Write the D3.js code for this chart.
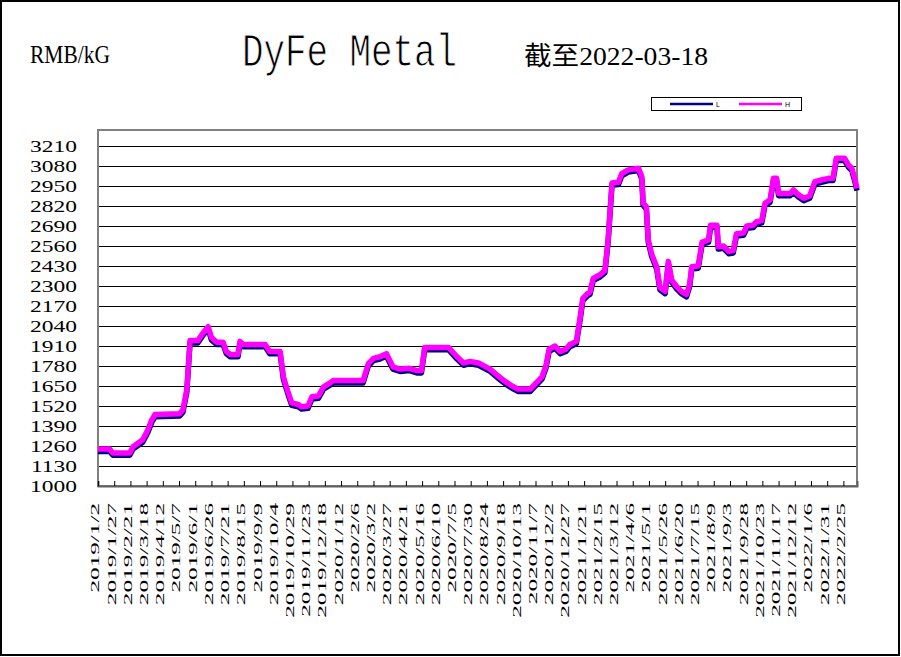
<!DOCTYPE html>
<html><head><meta charset="utf-8">
<script src="https://cdn.jsdelivr.net/npm/d3@7"></script>
<style>body{margin:0;background:#fff}svg{display:block}</style>
</head><body>
<svg id="c" width="901" height="657"></svg>
<script>
const dates = [
"2019-01-02","2019-01-20","2019-01-25","2019-02-20","2019-02-25","2019-03-12","2019-03-20","2019-03-26","2019-03-31","2019-05-08",
"2019-05-13","2019-05-19","2019-05-24","2019-06-05","2019-06-13","2019-06-21","2019-06-26","2019-07-04","2019-07-14","2019-07-19",
"2019-07-25","2019-08-06","2019-08-09","2019-08-14","2019-09-17","2019-09-24","2019-10-10","2019-10-15","2019-10-23","2019-10-28",
"2019-11-07","2019-11-12","2019-11-22","2019-11-28","2019-12-08","2019-12-16","2019-12-26","2019-12-31","2020-02-15","2020-02-23",
"2020-03-02","2020-03-12","2020-03-22","2020-04-01","2020-04-12","2020-04-27","2020-05-08","2020-05-15","2020-05-20","2020-06-26",
"2020-07-09","2020-07-19","2020-07-29","2020-08-11","2020-08-29","2020-09-09","2020-09-21","2020-10-02","2020-10-11","2020-10-30",
"2020-11-08","2020-11-17","2020-11-23","2020-11-28","2020-12-07","2020-12-15","2020-12-24","2020-12-30","2021-01-09","2021-01-15",
"2021-01-19","2021-01-26","2021-01-30","2021-02-04","2021-02-15","2021-02-22","2021-02-27","2021-03-05","2021-03-15","2021-03-20",
"2021-03-30","2021-04-15","2021-04-20","2021-04-22","2021-04-27","2021-04-30","2021-05-05","2021-05-13","2021-05-18","2021-05-26",
"2021-05-31","2021-06-05","2021-06-13","2021-06-20","2021-06-28","2021-07-03","2021-07-06","2021-07-16","2021-07-22","2021-08-01",
"2021-08-04","2021-08-14","2021-08-16","2021-08-24","2021-09-01","2021-09-08","2021-09-13","2021-09-24","2021-09-29","2021-10-09",
"2021-10-14","2021-10-22","2021-10-27","2021-11-04","2021-11-09","2021-11-14","2021-11-17","2021-12-05","2021-12-10","2021-12-18",
"2021-12-26","2022-01-04","2022-01-12","2022-01-22","2022-02-02","2022-02-09","2022-02-14","2022-02-27","2022-03-05","2022-03-10",
"2022-03-15","2022-03-18"];
const high = [
1240,1240,1215,1215,1255,1300,1365,1430,1465,1470,
1495,1625,1945,1945,1995,2035,1965,1935,1935,1875,
1855,1855,1940,1920,1920,1875,1875,1710,1600,1540,
1530,1515,1520,1580,1585,1645,1670,1685,1685,1795,
1830,1840,1860,1775,1760,1765,1750,1750,1900,1900,
1840,1800,1810,1800,1760,1720,1680,1650,1630,1630,
1670,1710,1780,1890,1910,1875,1890,1920,1940,2100,
2220,2250,2260,2350,2375,2400,2600,2970,2975,3030,
3055,3065,3010,2840,2815,2600,2510,2425,2290,2265,
2460,2340,2295,2265,2245,2315,2425,2430,2585,2600,
2695,2695,2555,2560,2525,2530,2640,2645,2690,2695,
2718,2725,2837,2860,3000,3000,2902,2902,2924,2892,
2870,2885,2978,2989,3000,3000,3130,3130,3086,3065,
2989,2935];
const low = [
1225,1225,1200,1200,1240,1285,1350,1415,1450,1455,
1480,1610,1930,1930,1980,2020,1950,1920,1920,1860,
1840,1840,1925,1905,1905,1860,1860,1695,1585,1525,
1515,1500,1505,1565,1570,1630,1655,1670,1670,1780,
1815,1825,1845,1760,1745,1750,1735,1735,1885,1885,
1825,1785,1795,1785,1745,1705,1665,1635,1615,1615,
1655,1695,1765,1875,1895,1860,1875,1905,1925,2085,
2205,2235,2245,2335,2360,2385,2585,2955,2960,3015,
3040,3050,2995,2825,2800,2585,2495,2410,2275,2250,
2445,2325,2280,2250,2230,2300,2410,2415,2570,2585,
2680,2680,2540,2545,2510,2515,2625,2630,2675,2680,
2703,2710,2822,2845,2985,2985,2887,2887,2909,2877,
2855,2870,2963,2974,2985,2985,3115,3115,3071,3050,
2974,2920];
const yTicks = [1000,1130,1260,1390,1520,1650,1780,1910,2040,2170,2300,2430,2560,2690,2820,2950,3080,3210];
const xTickLabels = ["2019/1/2","2019/1/27","2019/2/21","2019/3/18","2019/4/12","2019/5/7","2019/6/1","2019/6/26","2019/7/21","2019/8/15","2019/9/9","2019/10/4","2019/10/29","2019/11/23","2019/12/18","2020/1/12","2020/2/6","2020/3/2","2020/3/27","2020/4/21","2020/5/16","2020/6/10","2020/7/5","2020/7/30","2020/8/24","2020/9/18","2020/10/13","2020/11/7","2020/12/2","2020/12/27","2021/1/21","2021/2/15","2021/3/12","2021/4/6","2021/5/1","2021/5/26","2021/6/20","2021/7/15","2021/8/9","2021/9/3","2021/9/28","2021/10/23","2021/11/17","2021/12/12","2022/1/6","2022/1/31","2022/2/25"];
const seriesNames = ["L","H"];
const seriesColors = ["#000080","#FF00FF"];
const titleText = "DyFe Metal";
const unitText = "RMB/kG";
const dateText = "截至2022-03-18";

const svg = d3.select("#c");
const parse = d3.utcParse("%Y-%m-%d");
const parseTick = d3.utcParse("%Y/%m/%d");
const L = {left: 98, right: 857, top: 130, bottom: 486};

const x = d3.scaleUtc().domain([parse("2019-01-02"), parse("2022-03-18")]).range([L.left, L.right]);
const y = d3.scaleLinear().domain([1000, 3314]).range([L.bottom, L.top]);

svg.append("rect").attr("x",0).attr("y",0).attr("width",901).attr("height",657).attr("fill","#fff");
svg.append("rect").attr("x",1).attr("y",1).attr("width",898).attr("height",654)
  .attr("fill","none").attr("stroke","#000").attr("stroke-width",2);

// titles
svg.append("text").attr("x",30).attr("y",63).text(unitText)
  .attr("font-family","Liberation Serif").attr("font-size",25)
  .attr("textLength",80).attr("lengthAdjust","spacingAndGlyphs");
svg.append("text").attr("x",242).attr("y",66).text(titleText)
  .attr("font-family","Liberation Mono").attr("font-size",47)
  .attr("stroke","#fff").attr("stroke-width",0.9)
  .attr("textLength",215).attr("lengthAdjust","spacingAndGlyphs");
svg.append("text").attr("x",524).attr("y",65).text(dateText)
  .attr("font-family","Liberation Serif, Noto Sans CJK SC").attr("font-size",26)
  .attr("textLength",184).attr("lengthAdjust","spacingAndGlyphs");

// gridlines
svg.append("g").selectAll("line").data(yTicks.filter(d => d > 1000)).join("line")
  .attr("x1",L.left).attr("x2",L.right)
  .attr("y1",d => y(d)).attr("y2",d => y(d))
  .attr("stroke","#000").attr("stroke-width",1).attr("shape-rendering","crispEdges");

// y axis labels
const yAxis = d3.axisLeft(y).tickValues(yTicks).tickSize(0).tickPadding(21).tickFormat(d3.format("d"));
const yg = svg.append("g").attr("transform",`translate(${L.left},0)`).call(yAxis);
yg.select(".domain").remove();
yg.selectAll(".tick text").attr("font-family","Liberation Serif").attr("font-size",17)
  .attr("fill","#000").attr("dy","0.34em").attr("x",0).attr("text-anchor","end")
  .attr("transform","translate(-21,0) scale(1.38,1)");

// frame
svg.append("rect").attr("x",L.left).attr("y",L.top).attr("width",L.right-L.left).attr("height",L.bottom-L.top)
  .attr("fill","none").attr("stroke","#808080").attr("stroke-width",2);

// x ticks (inside) and labels
const tickDates = xTickLabels.map(s => parseTick(s));
const xAxis = d3.axisBottom(x).tickValues(tickDates).tickSize(-5).tickFormat((d,i) => xTickLabels[i]);
const xg = svg.append("g").attr("transform",`translate(0,${L.bottom})`).call(xAxis);
xg.select(".domain").attr("stroke","#606060").attr("stroke-width",2);
xg.selectAll(".tick line").attr("stroke","#000");
xg.selectAll(".tick text")
  .attr("font-family","Liberation Serif").attr("font-size",12).attr("fill","#000")
  .attr("text-anchor","end")
  .attr("transform","translate(-3,17) rotate(-90) scale(2.1,1)")
  .attr("x",0).attr("y",0).attr("dy","0.33em");

// series
const data = dates.map((d,i) => ({date: parse(d), h: high[i], l: low[i]}));
const lineL = d3.line().x(d => x(d.date)).y(d => y(d.l));
const lineH = d3.line().x(d => x(d.date)).y(d => y(d.h));
svg.append("path").datum(data).attr("d",lineL).attr("fill","none")
  .attr("stroke",seriesColors[0]).attr("stroke-width",5.5).attr("stroke-linejoin","round");
svg.append("path").datum(data).attr("d",lineH).attr("fill","none")
  .attr("stroke",seriesColors[1]).attr("stroke-width",5.5).attr("stroke-linejoin","round");

// legend
const lg = svg.append("g");
lg.append("rect").attr("x",651.5).attr("y",97.5).attr("width",150).attr("height",13)
  .attr("fill","#fff").attr("stroke","#000").attr("stroke-width",1);
seriesNames.forEach((n,i) => {
  const x0 = 670 + i*69;
  lg.append("line").attr("x1",x0).attr("x2",x0+43).attr("y1",104).attr("y2",104)
    .attr("stroke",seriesColors[i]).attr("stroke-width",2.5);
  lg.append("text").attr("x",x0+46).attr("y",107).text(n)
    .attr("font-family","Liberation Sans").attr("font-size",7).attr("fill","#000");
});
</script>
</body></html>
